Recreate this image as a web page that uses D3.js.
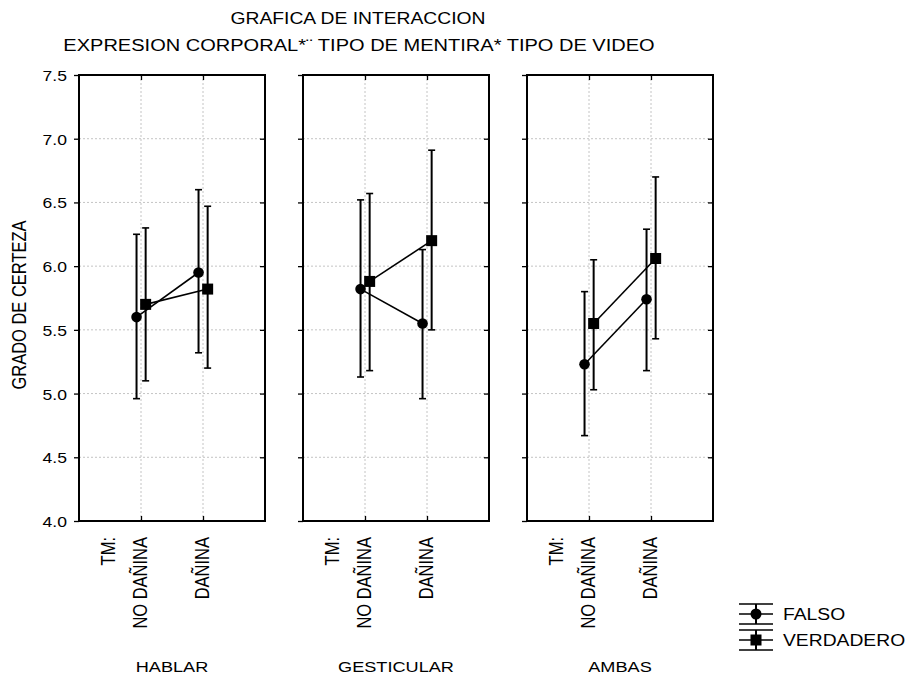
<!DOCTYPE html>
<html>
<head>
<meta charset="utf-8">
<script src="https://cdn.jsdelivr.net/npm/d3@7"></script>
<style>
  html, body { margin: 0; padding: 0; background: #fff; }
  svg { display: block; }
  text { font-family: "Liberation Sans", Arial, sans-serif; fill: #000; }
</style>
</head>
<body>
<script>
// Interaction plot: certainty by type of lie, split by video type, with 95% CI bars
const videoTypes = ["HABLAR", "GESTICULAR", "AMBAS"];
const lieTypes = ["NO DAÑINA", "DAÑINA"];
const seriesNames = ["FALSO", "VERDADERO"];

// means and interval bounds, one row per video type, one column per lie type
const falsoMeans = [[5.60, 5.95], [5.82, 5.55], [5.23, 5.74]];
const falsoLow   = [[4.96, 5.32], [5.13, 4.96], [4.67, 5.18]];
const falsoHigh  = [[6.25, 6.60], [6.52, 6.13], [5.80, 6.29]];
const verdMeans  = [[5.70, 5.82], [5.88, 6.20], [5.55, 6.06]];
const verdLow    = [[5.10, 5.20], [5.18, 5.50], [5.03, 5.43]];
const verdHigh   = [[6.30, 6.47], [6.57, 6.91], [6.05, 6.70]];

const yTickValues = [4.0, 4.5, 5.0, 5.5, 6.0, 6.5, 7.0, 7.5];

const titleLines = ["GRAFICA DE INTERACCION", "EXPRESION CORPORAL*\u00A8 TIPO DE MENTIRA* TIPO DE VIDEO"];
const yTitle = "GRADO DE CERTEZA";
const factorLabel = "TM:";

const W = 914, H = 679;
const SX = 1.17;              // horizontal stretch applied to text
const plotTop = 75, plotBottom = 521;
const panelW = 186, panelStep = 224, firstLeft = 79;

const svg = d3.select("body").append("svg").attr("width", W).attr("height", H);

const y = d3.scaleLinear().domain([4, 7.5]).range([plotBottom, plotTop]);
const x = d3.scaleLinear().domain([0, 3]).range([0, panelW]);
const panelX = d3.scaleLinear().domain([0, 1]).range([firstLeft, firstLeft + panelStep]);

function stretchedText(parent, tx, ty, str, size, anchor, rotate, sx) {
  return parent.append("text")
    .attr("transform", `translate(${tx},${ty}) scale(${sx || SX},1)` + (rotate ? " rotate(-90)" : ""))
    .attr("text-anchor", anchor)
    .attr("dominant-baseline", "central")
    .style("font-size", size + "px")
    .text(str);
}

// titles
stretchedText(svg, 358, 18, titleLines[0], 16.5, "middle");
stretchedText(svg, 359, 45, titleLines[1], 16.5, "middle", false, 1.215);

// y-axis title
stretchedText(svg, 20, 305, yTitle, 16.5, "middle", true);

const series = [
  { name: seriesNames[0], mean: falsoMeans, low: falsoLow, high: falsoHigh, off: -0.072, shape: "circle" },
  { name: seriesNames[1], mean: verdMeans, low: verdLow, high: verdHigh, off: 0.075, shape: "square" }
];

videoTypes.forEach((vt, p) => {
  const g = svg.append("g").attr("transform", `translate(${panelX(p)},0)`);

  // dotted grid
  g.selectAll("line.hgrid").data(yTickValues.slice(1, -1)).join("line")
    .attr("x1", 0).attr("x2", panelW)
    .attr("y1", d => y(d)).attr("y2", d => y(d))
    .attr("stroke", "#c4c4c4").attr("stroke-width", 1).attr("stroke-dasharray", "2,2");
  g.selectAll("line.vgrid").data(lieTypes).join("line")
    .attr("x1", (d, i) => x(i + 1)).attr("x2", (d, i) => x(i + 1))
    .attr("y1", plotTop).attr("y2", plotBottom)
    .attr("stroke", "#c4c4c4").attr("stroke-width", 1).attr("stroke-dasharray", "2,2");

  // y ticks on both vertical edges (labels only on the first panel)
  const leftAxis = d3.axisLeft(y).tickValues(yTickValues).tickSize(5).tickSizeOuter(0)
    .tickFormat(p === 0 ? d3.format(".1f") : "");
  const la = g.append("g").call(leftAxis);
  const ra = g.append("g").attr("transform", `translate(${panelW},0)`)
    .call(d3.axisLeft(y).tickValues(yTickValues.slice(1, -1)).tickSize(5).tickSizeOuter(0).tickFormat(""));
  [la, ra].forEach(a => {
    a.select(".domain").remove();
    a.selectAll(".tick line").attr("stroke", "#000").attr("stroke-width", 1.3);
  });
  la.selectAll(".tick text")
    .attr("x", 0).attr("dy", null)
    .attr("text-anchor", "end")
    .attr("dominant-baseline", "central")
    .attr("transform", `translate(-12,0) scale(${SX},1)`)
    .style("font-size", "15px")
    .style("font-family", '"Liberation Sans", Arial, sans-serif');

  // x ticks pointing inward on top and bottom edges
  const bt = g.append("g").attr("transform", `translate(0,${plotBottom})`)
    .call(d3.axisTop(x).tickValues([1, 2]).tickSize(5).tickSizeOuter(0).tickFormat(""));
  const tt = g.append("g").attr("transform", `translate(0,${plotTop})`)
    .call(d3.axisBottom(x).tickValues([1, 2]).tickSize(5).tickSizeOuter(0).tickFormat(""));
  [bt, tt].forEach(a => {
    a.select(".domain").remove();
    a.selectAll(".tick line").attr("stroke", "#000").attr("stroke-width", 1.3);
  });

  // frame
  g.append("rect").attr("x", 0).attr("y", plotTop).attr("width", panelW).attr("height", plotBottom - plotTop)
    .attr("fill", "none").attr("stroke", "#000").attr("stroke-width", 2);

  // category labels under the panel
  stretchedText(g, 30, 537, factorLabel, 16.5, "end", true);
  lieTypes.forEach((lt, i) => stretchedText(g, x(i + 1), 537, lt, 16.5, "end", true));
  stretchedText(g, panelW / 2, 667, vt, 15.5, "middle");

  series.forEach(s => {
    const pts = lieTypes.map((lt, i) => ({
      cx: x(i + 1 + s.off), m: s.mean[p][i], lo: s.low[p][i], hi: s.high[p][i]
    }));
    // connecting line
    g.append("path")
      .attr("d", d3.line().x(d => d.cx).y(d => y(d.m))(pts))
      .attr("fill", "none").attr("stroke", "#000").attr("stroke-width", 1.6);
    // interval bars
    pts.forEach(d => {
      g.append("line").attr("x1", d.cx).attr("x2", d.cx).attr("y1", y(d.lo)).attr("y2", y(d.hi))
        .attr("stroke", "#000").attr("stroke-width", 2);
      [d.lo, d.hi].forEach(v => g.append("line")
        .attr("x1", d.cx - 3.5).attr("x2", d.cx + 3.5).attr("y1", y(v)).attr("y2", y(v))
        .attr("stroke", "#000").attr("stroke-width", 1.6));
      if (s.shape === "circle") {
        g.append("circle").attr("cx", d.cx).attr("cy", y(d.m)).attr("r", 5.3).attr("fill", "#000");
      } else {
        g.append("rect").attr("x", d.cx - 5.5).attr("y", y(d.m) - 5.5).attr("width", 11).attr("height", 11).attr("fill", "#000");
      }
    });
  });
});

// legend
const legend = svg.append("g");
series.forEach((s, i) => {
  const cy = 614 + i * 26, cx = 756;
  const lg = legend.append("g");
  lg.append("line").attr("x1", cx).attr("x2", cx).attr("y1", cy - 10).attr("y2", cy + 10)
    .attr("stroke", "#000").attr("stroke-width", 2);
  [cy - 10, cy, cy + 10].forEach(yy => lg.append("line")
    .attr("x1", cx - 17).attr("x2", cx + 17).attr("y1", yy).attr("y2", yy)
    .attr("stroke", "#000").attr("stroke-width", 1.6));
  if (s.shape === "circle") {
    lg.append("circle").attr("cx", cx).attr("cy", cy).attr("r", 5.5).attr("fill", "#000");
  } else {
    lg.append("rect").attr("x", cx - 5.5).attr("y", cy - 5.5).attr("width", 11).attr("height", 11).attr("fill", "#000");
  }
  stretchedText(lg, 783, cy, s.name, 16.5, "start");
});
</script>
</body>
</html>
